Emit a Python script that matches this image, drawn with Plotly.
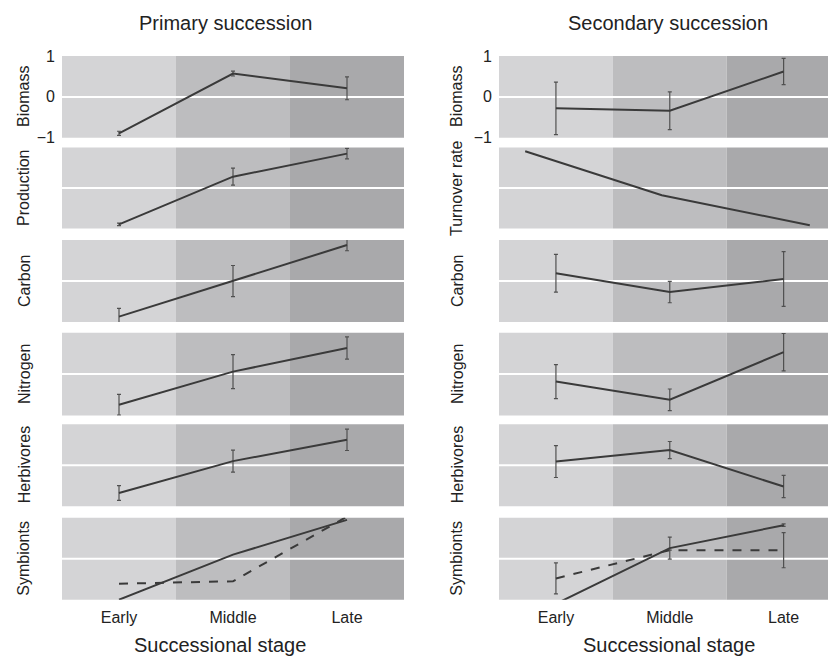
import plotly.graph_objects as go

W, H = 836, 665
OX, OY = 8, 8  # page body offset of the rendered figure

stages = ["Early", "Middle", "Late"]
stage_x = [0, 1, 2]
variables = ["Biomass", "Production", "Carbon", "Nitrogen", "Herbivores", "Symbionts"]
variables_secondary = ["Biomass", "Turnover rate", "Carbon", "Nitrogen", "Herbivores", "Symbionts"]
column_titles = ["Primary succession", "Secondary succession"]
x_title = "Successional stage"
y_tick_vals = [-1, 0, 1]
y_tick_text = ["\u22121", "0", "1"]

# Primary succession (means and error half-widths)
p_biomass = [-0.89, 0.57, 0.21]
p_biomass_err = [0.05, 0.06, 0.28]
p_production = [-0.90, 0.28, 0.85]
p_production_err = [0.03, 0.21, 0.13]
p_carbon = [-0.87, 0.0, 0.88]
p_carbon_err = [0.2, 0.38, 0.14]
p_nitrogen = [-0.74, 0.06, 0.63]
p_nitrogen_err = [0.25, 0.41, 0.27]
p_herbivores = [-0.68, 0.10, 0.62]
p_herbivores_err = [0.18, 0.27, 0.26]
p_symb_solid = [-1.0, 0.10, 0.95]
p_symb_dashed = [-0.61, -0.55, 1.03]

# Secondary succession
s_biomass = [-0.28, -0.34, 0.62]
s_biomass_err = [0.64, 0.46, 0.32]
s_turnover_x = [-0.27, 0.93, 2.23]
s_turnover = [0.91, -0.18, -0.92]
s_carbon = [0.19, -0.27, 0.05]
s_carbon_err = [0.46, 0.26, 0.67]
s_nitrogen = [-0.18, -0.62, 0.53]
s_nitrogen_err = [0.41, 0.26, 0.45]
s_herbivores = [0.09, 0.37, -0.52]
s_herbivores_err = [0.39, 0.21, 0.27]
s_symb_solid = [-1.1, 0.26, 0.82]
s_symb_solid_err = [0, 0.27, 0.03]
s_symb_dashed = [-0.48, 0.21, 0.21]
s_symb_dashed_err = [0.38, 0, 0.43]

band_colors = ["#d4d4d6", "#bdbdbf", "#a9a9ab"]
line_color = "#3a3a3a"
err_color = "#505050"
text_color = "#222222"
font_family = "Liberation Sans, Arial, sans-serif"

tops = [49, 143, 238, 333, 427, 523]
bottoms = [133, 226, 322, 418, 511, 607]
col_x = [(62, 404), (499, 836)]
col_range = [[-0.5, 2.5], [-0.5, 2.46]]
ylabel_x = [24, 457]
title_x = [226, 668]
xtitle_x = [220, 669]


def px(x):
    return (x - OX) / W


def py(y):
    return 1 - (y - OY) / H


fig = go.Figure()
layout = dict(
    width=W, height=H,
    margin=dict(l=0, r=0, t=0, b=0),
    paper_bgcolor="white", plot_bgcolor="white",
    showlegend=False,
    font=dict(family=font_family, color=text_color),
)
shapes = []
annotations = []


def ax_idx(c, r):
    return c * 6 + r + 1


def add_line(c, r, x, y, err=None, dash="solid"):
    i = ax_idx(c, r)
    tr = dict(
        x=x, y=y, mode="lines",
        line=dict(color=line_color, width=2, dash=dash),
        xaxis="x" if i == 1 else f"x{i}",
        yaxis="y" if i == 1 else f"y{i}",
        cliponaxis=False,
        hoverinfo="skip",
    )
    if err is not None:
        tr["error_y"] = dict(type="data", array=err, visible=True,
                             color=err_color, thickness=1.2, width=2)
    fig.add_trace(go.Scatter(**tr))


for c in range(2):
    for r in range(6):
        i = ax_idx(c, r)
        xname = "xaxis" if i == 1 else f"xaxis{i}"
        yname = "yaxis" if i == 1 else f"yaxis{i}"
        xref = "x" if i == 1 else f"x{i}"
        yref = "y" if i == 1 else f"y{i}"
        bottom_row = r == 5
        layout[xname] = dict(
            domain=[px(col_x[c][0]), min(1.0, px(col_x[c][1]))],
            range=col_range[c], anchor=yref,
            showgrid=False, zeroline=False, showline=False,
            tickvals=stage_x, ticktext=stages,
            showticklabels=bottom_row, ticks="",
            ticklabelstandoff=6,
            tickfont=dict(size=16, color=text_color),
            fixedrange=True,
        )
        layout[yname] = dict(
            domain=[py(bottoms[r]), py(tops[r])],
            range=[-1, 1], anchor=xref,
            showgrid=False, zeroline=False, showline=False,
            tickvals=y_tick_vals, ticktext=y_tick_text,
            showticklabels=(r == 0), ticks="",
            ticklabelstandoff=6,
            tickfont=dict(size=16, color=text_color),
            fixedrange=True,
        )
        for k in range(3):
            shapes.append(dict(
                type="rect", xref=xref, yref=f"{yref} domain",
                x0=stage_x[k] - 0.5, x1=stage_x[k] + 0.5, y0=0, y1=1,
                fillcolor=band_colors[k], line=dict(width=0), layer="below",
            ))
        shapes.append(dict(
            type="line", xref=f"{xref} domain", yref=yref,
            x0=0, x1=1, y0=0, y1=0,
            line=dict(color="white", width=2), layer="below",
        ))
        labels = variables if c == 0 else variables_secondary
        annotations.append(dict(
            text=labels[r], textangle=-90,
            x=px(ylabel_x[c]), xref="paper", xanchor="center",
            y=py((tops[r] + bottoms[r]) / 2), yref="paper", yanchor="middle",
            showarrow=False, font=dict(size=16, color=text_color),
        ))

for c in range(2):
    annotations.append(dict(text=column_titles[c], x=px(title_x[c]), xref="paper",
                            xanchor="center", y=py(15), yref="paper", yanchor="middle",
                            showarrow=False, font=dict(size=20, color=text_color)))
    annotations.append(dict(text=x_title, x=px(xtitle_x[c]), xref="paper",
                            xanchor="center", y=py(654), yref="paper", yanchor="middle",
                            showarrow=False, font=dict(size=20, color=text_color)))

# Primary
add_line(0, 0, stage_x, p_biomass, p_biomass_err)
add_line(0, 1, stage_x, p_production, p_production_err)
add_line(0, 2, stage_x, p_carbon, p_carbon_err)
add_line(0, 3, stage_x, p_nitrogen, p_nitrogen_err)
add_line(0, 4, stage_x, p_herbivores, p_herbivores_err)
add_line(0, 5, stage_x, p_symb_dashed, None, dash="dash")
add_line(0, 5, stage_x, p_symb_solid)

# Secondary
add_line(1, 0, stage_x, s_biomass, s_biomass_err)
add_line(1, 1, s_turnover_x, s_turnover)
add_line(1, 2, stage_x, s_carbon, s_carbon_err)
add_line(1, 3, stage_x, s_nitrogen, s_nitrogen_err)
add_line(1, 4, stage_x, s_herbivores, s_herbivores_err)
add_line(1, 5, stage_x, s_symb_dashed, s_symb_dashed_err, dash="dash")
add_line(1, 5, stage_x, s_symb_solid, s_symb_solid_err)

layout["shapes"] = shapes
layout["annotations"] = annotations
fig.update_layout(**layout)
fig.write_html("out.html")
